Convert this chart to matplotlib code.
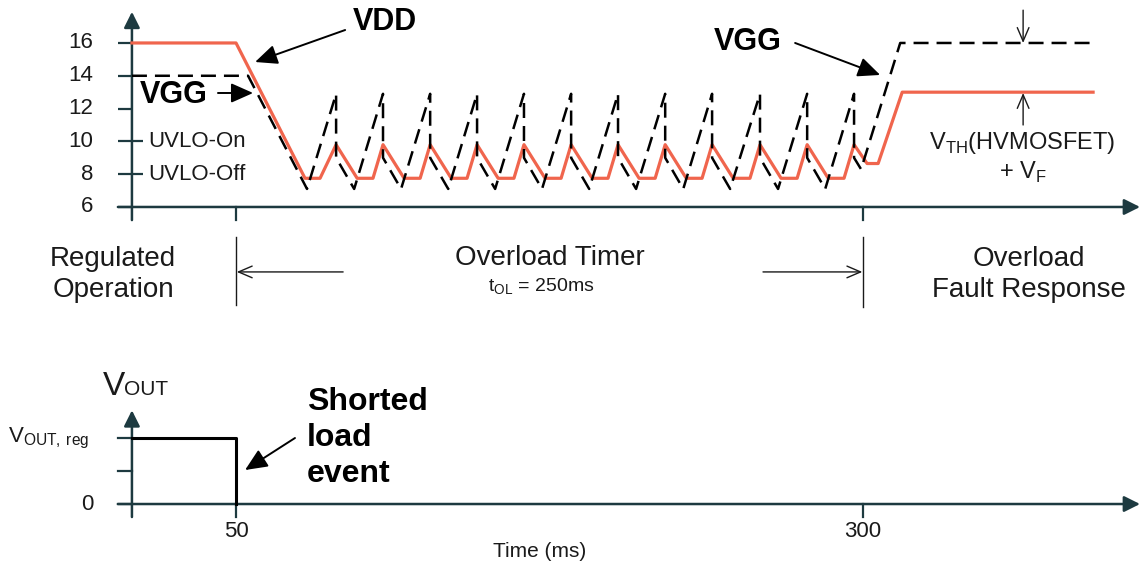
import matplotlib
matplotlib.use('Agg')
import matplotlib.pyplot as plt
from matplotlib import rcParams, font_manager

# narrow font for the phase labels if we have it
names = {f.name for f in font_manager.fontManager.ttflist}
narrow = 'Liberation Sans Narrow' if 'Liberation Sans Narrow' in names else 'Liberation Sans'

rcParams.update({
    "font.family": ['Liberation Sans', 'DejaVu Sans'],
    "font.size": 14,
    "mathtext.fontset": 'custom',
    "mathtext.rm": 'Liberation Sans',
})

# ---------------- data (time in ms, volts) ----------------
vdd_t = [8.5, 50, 77.5, 83.5, 89.9, 98.3, 104.6, 108.6, 117.0, 123.4, 127.4,
         135.8, 142.1, 146.1, 154.5, 160.8, 164.8, 173.2, 179.6, 183.6,
         192.0, 198.3, 202.3, 210.7, 217.1, 221.1, 229.5, 235.8, 239.8,
         248.2, 254.9, 258.9, 267.3, 273.7, 277.7, 286.1, 292.4, 296.4,
         301.6, 306.0, 315.6, 391.7]
vdd_v = [16, 16, 7.75, 7.75, 9.8, 7.75, 7.75, 9.8, 7.75, 7.75, 9.8,
         7.75, 7.75, 9.8, 7.75, 7.75, 9.8, 7.75, 7.75, 9.8,
         7.75, 7.75, 9.8, 7.75, 7.75, 9.8, 7.75, 7.75, 9.8,
         7.75, 7.75, 9.8, 7.75, 7.75, 9.8, 7.75, 7.75, 9.8,
         8.65, 8.65, 13.0, 13.0]

vgg_t = [8.5, 54.8, 78.3, 89.9, 89.9, 97.1, 108.6, 108.6, 115.8,
         127.4, 127.4, 134.6, 146.1, 146.1, 153.3, 164.8, 164.8, 172.0,
         183.6, 183.6, 190.8, 202.3, 202.3, 209.5, 221.1, 221.1, 228.3,
         239.8, 239.8, 247.0, 258.9, 258.9, 266.1, 277.7, 277.7, 284.9,
         296.4, 296.4, 299.2, 314.8, 391.7]
vgg_v = [14, 14, 7.1, 12.9, 9.0, 7.1, 12.9, 9.0, 7.1,
         12.9, 9.0, 7.1, 12.9, 9.0, 7.1, 12.9, 9.0, 7.1,
         12.9, 9.0, 7.1, 12.9, 9.0, 7.1, 12.9, 9.0, 7.1,
         12.9, 9.0, 7.1, 12.9, 9.0, 7.1, 12.9, 9.0, 7.1,
         12.9, 9.0, 8.3, 16, 16]

vout_t = [8.5, 50, 50]
vout_v = [1, 1, 0]

y_ticks = [6, 8, 10, 12, 14, 16]
x_marks = [50, 300]

axis_c = '#1d3a40'
red = '#f0654d'
txt_c = '#1a1a1a'

fig = plt.figure(figsize=(11.4, 5.66), dpi=100)
# top plot, whole figure, data coords = time / volts
ax1 = fig.add_axes([0, 0, 1, 1])
ax1.set_xlim(-44.1, 410.4)
ax1.set_ylim(-15.89, 18.62)
ax1.axis('off')
# bottom plot, same time scale
ax2 = fig.add_axes([0, 0, 1, 1])
ax2.set_xlim(-44.1, 410.4)
ax2.set_ylim(-0.939, 7.636)
ax2.axis('off')
ax2.patch.set_alpha(0)

def axis_arrow(ax, p0, p1):
    ax.annotate('', xy=p1, xytext=p0,
                arrowprops=dict(arrowstyle='-|>,head_length=0.6,head_width=0.3',
                                mutation_scale=16, lw=1.8, color=axis_c,
                                shrinkA=0, shrinkB=0))

def pointer(ax, p0, p1, ms=15):
    ax.annotate('', xy=p1, xytext=p0,
                arrowprops=dict(arrowstyle='-|>,head_length=0.9,head_width=0.4',
                                mutation_scale=ms, lw=1.4, color='black',
                                shrinkA=0, shrinkB=0))

def thin_arrow(ax, p0, p1):
    ax.annotate('', xy=p1, xytext=p0,
                arrowprops=dict(arrowstyle='->,head_length=0.7,head_width=0.3',
                                mutation_scale=14, lw=1.0, color=txt_c,
                                shrinkA=0, shrinkB=0))

# ---------------- top: VDD / VGG ----------------
axis_arrow(ax1, (8.5, 5.2), (8.5, 17.9))
axis_arrow(ax1, (2.9, 6), (410.4, 6))
for v in y_ticks:
    right = 12.9 if v in (8, 10) else 8.5
    ax1.plot([2.9, right], [v, v], color=axis_c, lw=1.6, solid_capstyle='butt')
    ax1.text(-7.0, v, str(v), ha='right', va='center', fontsize=16, color=txt_c)
for t in x_marks:
    ax1.plot([t, t], [6, 5.21], color=axis_c, lw=1.6)

ax1.plot(vdd_t, vdd_v, color=red, lw=2.3, zorder=3)
ax1.plot(vgg_t, vgg_v, color='black', lw=1.8, dashes=(6, 3.2), zorder=4)

ax1.text(14.9, 10, 'UVLO-On', ha='left', va='center', fontsize=16, color=txt_c)
ax1.text(14.9, 8, 'UVLO-Off', ha='left', va='center', fontsize=16, color=txt_c)

ax1.text(109.4, 17.28, 'VDD', ha='center', va='center', fontsize=22, fontweight='bold')
pointer(ax1, (93.5, 16.79), (57.6, 14.84))
ax1.text(25.3, 12.83, 'VGG', ha='center', va='center', fontsize=22, fontweight='bold')
pointer(ax1, (42.8, 12.95), (56.8, 12.95))
ax1.text(254.1, 16.06, 'VGG', ha='center', va='center', fontsize=22, fontweight='bold')
pointer(ax1, (272.9, 16.0), (306.8, 14.05))

thin_arrow(ax1, (363.8, 18.0), (363.8, 16.0))
thin_arrow(ax1, (363.8, 11.0), (363.8, 12.95))
ax1.text(363.6, 9.9, r'V$_{\mathregular{TH}}$(HVMOSFET)', ha='center', va='center',
         fontsize=17, color=txt_c)
ax1.text(363.6, 8.13, r'+ V$_{\mathregular{F}}$', ha='center', va='center',
         fontsize=17, color=txt_c)

# ---------------- phase labels ----------------
ax1.plot([50, 50], [4.17, 0.02], color=txt_c, lw=1.0)
ax1.plot([300, 300], [4.17, -0.1], color=txt_c, lw=1.0)
thin_arrow(ax1, (92.7, 2.04), (50.3, 2.04))
thin_arrow(ax1, (260.1, 2.04), (299.7, 2.04))

ax1.text(0.96, 1.88, 'Regulated\nOperation', ha='center', va='center',
         fontsize=20, family=narrow, linespacing=1.25, color=txt_c)
ax1.text(175.2, 2.89, 'Overload Timer', ha='center', va='center',
         fontsize=20, family=narrow, color=txt_c)
ax1.text(171.6, 1.12, r't$_{\mathregular{OL}}$ = 250ms', ha='center', va='center',
         fontsize=14, color=txt_c)
ax1.text(366.0, 1.88, 'Overload\nFault Response', ha='center', va='center',
         fontsize=20, family=narrow, linespacing=1.25, color=txt_c)

# ---------------- bottom: VOUT ----------------
axis_arrow(ax2, (8.5, -0.197), (8.5, 1.42))
axis_arrow(ax2, (2.9, 0), (410.4, 0))
for v in [0, 0.5, 1]:
    ax2.plot([2.9, 8.5], [v, v], color=axis_c, lw=1.6)
for t in x_marks:
    ax2.plot([t, t], [0, -0.197], color=axis_c, lw=1.6)
    ax2.text(t, -0.41, str(t), ha='center', va='center', fontsize=16, color=txt_c)
ax2.plot(vout_t, vout_v, color='black', lw=2.2, zorder=3)

ax2.text(-7.0, 0, '0', ha='right', va='center', fontsize=16, color=txt_c)
ax2.text(-40.9, 1.0, r'V$_{\mathregular{OUT,\,reg}}$', ha='left', va='center',
         fontsize=16, color=txt_c)
ax2.text(-3.2, 1.65, 'V', ha='left', va='baseline', fontsize=24, color=txt_c)
ax2.text(5.2, 1.65, 'OUT', ha='left', va='baseline', fontsize=15, color=txt_c)

ax2.text(78.3, 1.0, 'Shorted\nload\nevent', ha='left', va='center', fontsize=23,
         fontweight='bold', linespacing=1.25)
pointer(ax2, (73.5, 1.0), (53.6, 0.515))

ax2.text(171.2, -0.712, 'Time (ms)', ha='center', va='center', fontsize=15, color=txt_c)

plt.savefig('out.png', dpi=100)
